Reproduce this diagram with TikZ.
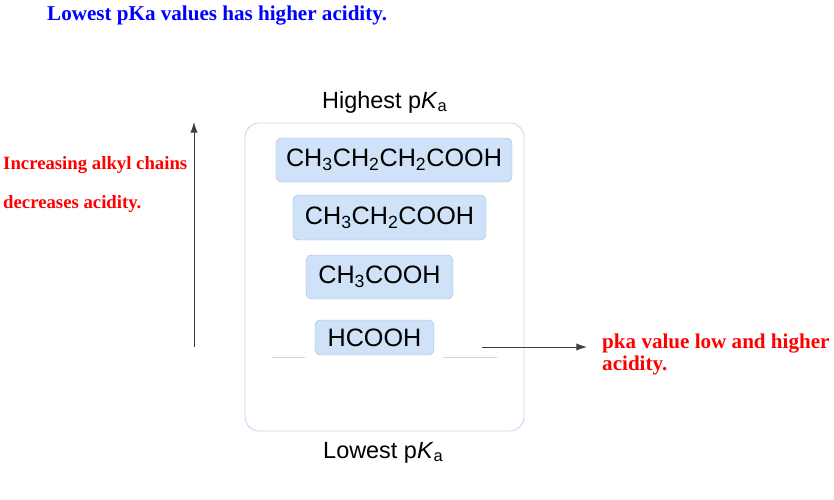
\documentclass[tikz,border=0pt]{standalone}
\usepackage{fontspec}
\setmainfont{Liberation Serif}
\setsansfont{Liberation Sans}
\usetikzlibrary{arrows.meta}

\definecolor{boxfill}{HTML}{CFE2F7}
\definecolor{boxline}{HTML}{9FC2EC}
\definecolor{panelline}{HTML}{C2D8F2}
\definecolor{arrowgray}{HTML}{6E6E6E}

\tikzset{
  acidbox/.style={draw=boxline, fill=boxfill, rounded corners=5pt, inner sep=0pt,
    font=\sffamily\fontsize{21.5}{25}\selectfont},
  sanslabel/.style={anchor=base west, inner sep=0pt, font=\sffamily\fontsize{20}{24}\selectfont},
  redtext/.style={anchor=base west, inner sep=0pt, text=red, font=\bfseries\fontsize{16}{19}\selectfont},
  panel/.style={draw=panelline, line width=0.8pt, rounded corners=12pt},
  guide/.style={draw=panelline, line width=0.8pt},
  pointer/.style={draw=black!75, line width=0.8pt, -{Latex[length=3.2mm,width=2.2mm]}}
}

\begin{document}
\begin{tikzpicture}[x=0.03cm,y=-0.03cm]
  \useasboundingbox (0,0) rectangle (834,499);

  \node[anchor=base west, inner sep=0pt, text=blue, font=\bfseries\fontsize{18}{22}\selectfont] (title) at (47,20) {Lowest pKa values has higher acidity.};

  \node[sanslabel] (highest) at (322,108) {Highest p\textit{K}\textsubscript{a}};
  \draw[panel] (245,123) rectangle (524,431);
  \node[acidbox, minimum width=7.08cm, minimum height=1.32cm] (butanoic) at (394,160) {CH\textsubscript{3}CH\textsubscript{2}CH\textsubscript{2}COOH};
  \node[acidbox, minimum width=5.79cm, minimum height=1.35cm] (propanoic) at (389.5,217.5) {CH\textsubscript{3}CH\textsubscript{2}COOH};
  \node[acidbox, minimum width=4.41cm, minimum height=1.32cm] (acetic) at (379.5,277) {CH\textsubscript{3}COOH};
  \node[acidbox, minimum width=3.57cm, minimum height=1.05cm] (formic) at (374.5,337.5) {HCOOH};
  \node[sanslabel] (lowest) at (323,458) {Lowest p\textit{K}\textsubscript{a}};

  \draw[guide] (272,357) -- (305,357);
  \draw[guide] (443,357) -- (497,357);

  % trend on the left
  \coordinate (trendlow) at (194,347);
  \coordinate (trendhigh) at (194,122);
  \draw[pointer] (trendlow) -- (trendhigh);
  \node[redtext] (alkylone) at (3,169) {Increasing alkyl chains};
  \node[redtext] (alkyltwo) at (3,208) {decreases acidity.};

  % note on the right
  \coordinate (notestart) at (482,347);
  \coordinate (noteend) at (587,347);
  \draw[pointer] (notestart) -- (noteend);
  \node[redtext, font=\bfseries\fontsize{18}{18}\selectfont, align=left] (lowpka) at (602,370) {pka value low and higher\\acidity.};
\end{tikzpicture}
\end{document}
